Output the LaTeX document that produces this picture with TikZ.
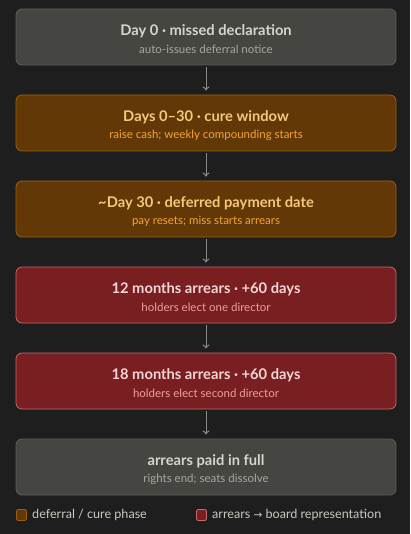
\documentclass[tikz,border=0pt]{standalone}
\usepackage{fontspec}
\setmainfont{Lato}
\newfontfamily\arrowfont{DejaVu Sans}
\definecolor{bg}{HTML}{1E1E1E}
\definecolor{gfill}{HTML}{454541}
\definecolor{gdraw}{HTML}{5E5E5A}
\definecolor{gtitle}{HTML}{D6D6CE}
\definecolor{gsub}{HTML}{A8A8A2}
\definecolor{ofill}{HTML}{633807}
\definecolor{odraw}{HTML}{9A6010}
\definecolor{otitle}{HTML}{F5C97A}
\definecolor{osub}{HTML}{F2A535}
\definecolor{rfill}{HTML}{7A1F21}
\definecolor{rdraw}{HTML}{C46A6A}
\definecolor{rtitle}{HTML}{F5D5D5}
\definecolor{rsub}{HTML}{EBA0A0}
\definecolor{arr}{HTML}{8C8C87}
\definecolor{legtext}{HTML}{C8C8C0}
\usetikzlibrary{arrows.meta}
\tikzset{
  box/.style={draw, line width=0.8pt, rounded corners=6pt, minimum width=380pt, minimum height=56pt, inner sep=0pt},
  greybox/.style={box, fill=gfill, draw=gdraw},
  orangebox/.style={box, fill=ofill, draw=odraw},
  redbox/.style={box, fill=rfill, draw=rdraw},
  ttl/.style={font=\fontsize{14.7}{16}\selectfont\bfseries, inner sep=0pt, anchor=center},
  sub/.style={font=\fontsize{11.5}{13}\selectfont, inner sep=0pt, anchor=center},
  flow/.style={draw=arr, line width=1pt, -{To[length=4pt,width=7pt]}},
  legsq/.style={draw, line width=0.9pt, rounded corners=2pt, minimum width=10pt, minimum height=11pt, inner sep=0pt},
  legtx/.style={font=\fontsize{12.6}{14}\selectfont, text=legtext, anchor=west, inner sep=0pt}
}
\begin{document}
\begin{tikzpicture}[x=1pt,y=-1pt]
\fill[bg] (0,0) rectangle (410,534);
\useasboundingbox (0,0) rectangle (410,534);

\node[greybox] (b1) at (206,37) {};
\node[ttl, text=gtitle] (t1) at (206,31) {Day 0 · missed declaration};
\node[sub, text=gsub] (s1) at (206,49) {auto-issues deferral notice};

\node[orangebox] (b2) at (206,123) {};
\node[ttl, text=otitle] (t2) at (206,117) {Days 0–30 · cure window};
\node[sub, text=osub] (s2) at (206,135) {raise cash; weekly compounding starts};

\node[orangebox] (b3) at (206,209) {};
\node[ttl, text=otitle] (t3) at (206,203) {\textasciitilde Day 30 · deferred payment date};
\node[sub, text=osub] (s3) at (206,221) {pay resets; miss starts arrears};

\node[redbox] (b4) at (206,295) {};
\node[ttl, text=rtitle] (t4) at (206,289) {12 months arrears · +60 days};
\node[sub, text=rsub] (s4) at (206,307) {holders elect one director};

\node[redbox] (b5) at (206,381) {};
\node[ttl, text=rtitle] (t5) at (206,375) {18 months arrears · +60 days};
\node[sub, text=rsub] (s5) at (206,393) {holders elect second director};

\node[greybox] (b6) at (206,467) {};
\node[ttl, text=gtitle] (t6) at (206,461) {arrears paid in full};
\node[sub, text=gsub] (s6) at (206,479) {rights end; seats dissolve};

\draw[flow] ([yshift=-2pt]b1.south) -- ([yshift=4pt]b2.north);
\draw[flow] ([yshift=-2pt]b2.south) -- ([yshift=4pt]b3.north);
\draw[flow] ([yshift=-2pt]b3.south) -- ([yshift=4pt]b4.north);
\draw[flow] ([yshift=-2pt]b4.south) -- ([yshift=4pt]b5.north);
\draw[flow] ([yshift=-2pt]b5.south) -- ([yshift=4pt]b6.north);

\node[legsq, fill=ofill, draw=odraw] (l1) at (21.5,515) {};
\node[legtx] (lt1) at (32,515) {deferral / cure phase};
\node[legsq, fill=rfill, draw=rdraw] (l2) at (201.5,515) {};
\node[legtx] (lt2) at (212,515) {arrears {\arrowfont\fontsize{10.5}{12}\selectfont →} board representation};
\end{tikzpicture}
\end{document}
